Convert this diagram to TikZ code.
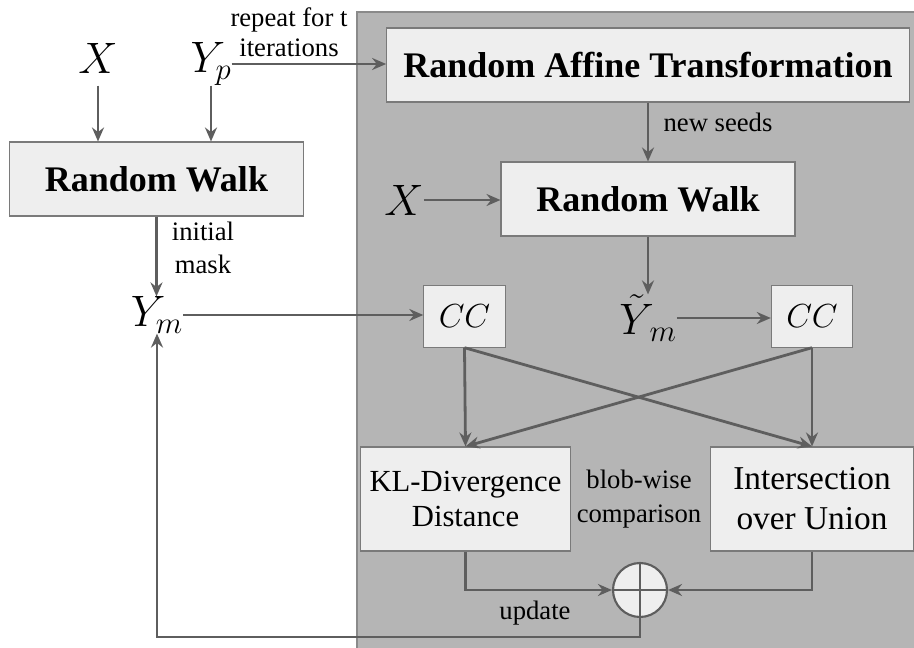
\documentclass[tikz,border=0pt]{standalone}
\usepackage{fix-cm}
\usepackage{fontspec}
\setmainfont{Liberation Serif}
\usetikzlibrary{arrows.meta,positioning}
\definecolor{panelgray}{HTML}{B5B5B5}
\definecolor{paneledge}{HTML}{8A8A8A}
\definecolor{boxfill}{HTML}{EEEEEE}
\definecolor{boxedge}{HTML}{7A7A7A}
\definecolor{arrowgray}{HTML}{5E5E5E}
\begin{document}
\begin{tikzpicture}[x=0.75pt,y=-0.75pt,
  box/.style={draw=boxedge, fill=boxfill, line width=0.8pt, inner sep=0pt, align=center},
  title/.style={box, font=\fontsize{27}{32}\selectfont\bfseries, minimum height=55.5pt},
  ccbox/.style={box, minimum width=61pt, minimum height=46pt, font=\fontsize{25}{30}\selectfont},
  metric/.style={box, minimum height=78pt},
  var/.style={inner sep=0pt, font=\fontsize{33}{38}\selectfont},
  lbl/.style={inner sep=0pt, align=center, font=\fontsize{20}{23}\selectfont},
  arr/.style={draw=arrowgray, line width=2.1pt, -{Stealth[length=10.5pt,width=9pt,inset=3.5pt]}}]
  \useasboundingbox (0,0) rectangle (914,648);
  % loop of the iterations
  \fill[panelgray, draw=paneledge, line width=0.8pt] (357,12) rectangle (918,652);

  \node[var] (xa) at (98,58) {$X$};
  \node[var] (yp) at (211,64) {$Y_p$};
  \node[title, minimum width=220.5pt] (rwa) at (156.5,179) {Random Walk};
  \node[var] (yma) at (157,315) {$Y_m$};

  \node[title, minimum width=392pt] (rat) at (648,65) {Random Affine Transformation};
  \node[title, minimum width=220.5pt] (rwb) at (648,199) {Random Walk};
  \node[var] (xb) at (404,200) {$X$};
  \node[var] (ymb) at (648,318) {$\tilde{Y}_{\,m}$};
  \node[ccbox] (cca) at (464.5,316.5) {$CC$};
  \node[ccbox] (ccb) at (812,316.5) {$CC$};
  \node[metric, minimum width=157pt, font=\fontsize{23}{26}\selectfont] (kl) at (465.5,499) {KL-Divergence\\Distance};
  \node[metric, minimum width=152pt, font=\fontsize{25}{30}\selectfont] (iou) at (812,499) {Intersection\\over Union};
  \node[circle, draw=arrowgray, fill=boxfill, line width=1.6pt, minimum size=40.5pt, inner sep=0pt] (plus) at (640,590) {};
  \draw[arrowgray, line width=1.4pt] (plus.north) -- (plus.south) (plus.west) -- (plus.east);

  \node[lbl, font=\fontsize{20}{22.5}\selectfont] (rep) at (289,32) {repeat for t\\iterations};
  \node[lbl, font=\fontsize{20}{24.75}\selectfont] (init) at (203,248) {initial\\mask};
  \node[lbl] (seeds) at (718,122) {new seeds};
  \node[lbl, font=\fontsize{20}{26}\selectfont] (blob) at (639,499) {blob-wise\\comparison};
  \node[lbl] (upd) at (535,613) {update};

  \draw[arr] (xa.south |- yp.south) -- (xa.south |- rwa.north);
  \draw[arr] (yp.south) -- (yp.south |- rwa.north);
  \draw[arr] (yp.east) -- (yp.east -| rat.west);
  \draw[arr] (rwa.south) -- (rwa.south |- yma.north);
  \draw[arr] (yma.east) -- (yma.east -| cca.west);
  \draw[arr] (rat.south) -- (rwb.north);
  \draw[arr] (xb.east) -- (xb.east -| rwb.west);
  \draw[arr] (rwb.south) -- (ymb.north);
  \draw[arr] (ymb.east) -- (ymb.east -| ccb.west);
  \draw[arr] (cca.south) -- (kl.north);
  \draw[arr] (cca.south) -- (iou.north);
  \draw[arr] (ccb.south) -- (iou.north);
  \draw[arr] (ccb.south) -- (kl.north);
  \draw[arr] (kl.south) |- (plus.west);
  \draw[arr] (iou.south) |- (plus.east);
  \draw[arr] (plus.south) -- ++(0,19) -| (yma.south);
\end{tikzpicture}
\end{document}
